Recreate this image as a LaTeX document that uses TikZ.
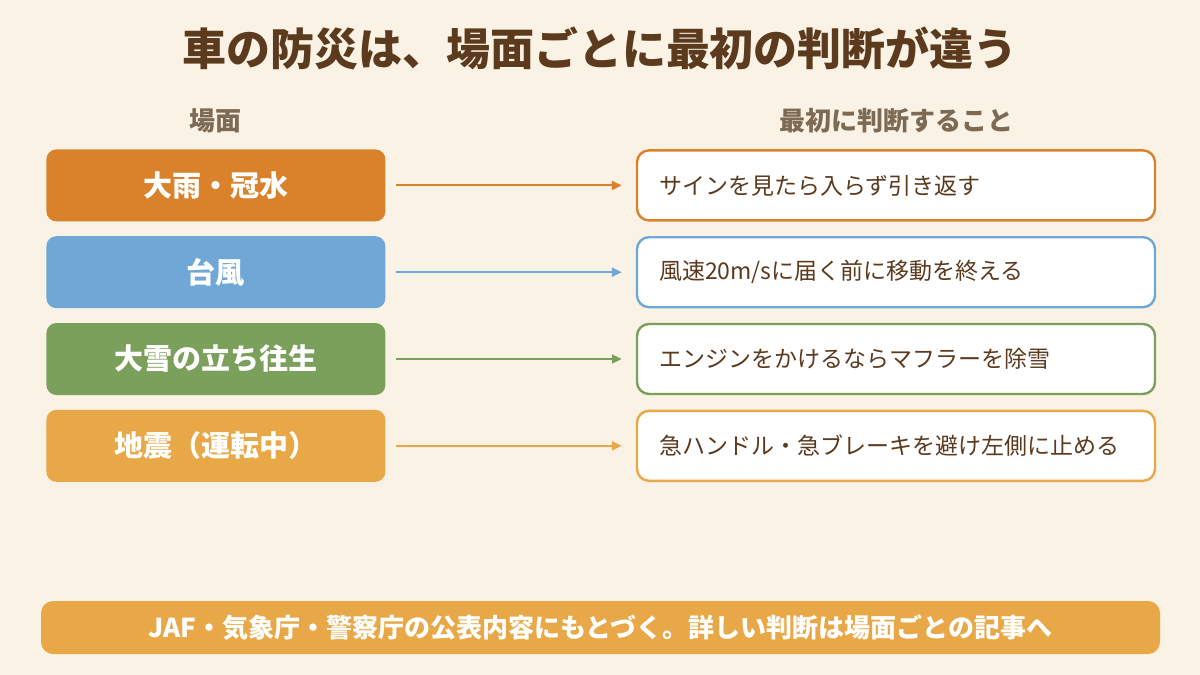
\documentclass[tikz,border=0pt]{standalone}
\usepackage{fontspec}
\setmainfont{Noto Sans CJK JP}
\usetikzlibrary{arrows.meta,positioning}
\definecolor{bg}{HTML}{FAF2E4}
\definecolor{titlebrown}{HTML}{5B3A1E}
\definecolor{headbrown}{HTML}{7D6A55}
\definecolor{rainc}{HTML}{D9822B}
\definecolor{typhc}{HTML}{6FA8D6}
\definecolor{snowc}{HTML}{7BA05B}
\definecolor{quakec}{HTML}{E9A847}

\begin{document}
\begin{tikzpicture}[
  x=0.5pt, y=-0.5pt,
  node distance=7pt and 125pt,
  scene/.style={fill=#1, rounded corners=5pt, minimum width=169.5pt, minimum height=36pt, inner sep=0pt, text=white, font=\bfseries\fontsize{14.5}{17}\selectfont},
  action/.style={draw=#1, line width=1.2pt, fill=white, rounded corners=6pt, text width=237pt, inner xsep=11pt, inner ysep=0pt, minimum height=35pt, align=left, text=titlebrown, font=\fontsize{11.5}{14}\selectfont},
  head/.style={text=headbrown, font=\bfseries\fontsize{13}{15}\selectfont, inner sep=0pt},
  arrow/.style={line width=1pt, draw=#1, -{Triangle[length=5pt,width=4.5pt]}, shorten <=5pt, shorten >=7pt}
]

\fill[bg] (0,0) rectangle (1200,675);

\node[font=\bfseries\fontsize{22}{26}\selectfont, text=titlebrown] (title) at (600,48) {車の防災は、場面ごとに最初の判断が違う};

\node[scene=rainc, anchor=north west] (rain) at (46,149) {大雨・冠水};
\node[scene=typhc, below=of rain] (typhoon) {台風};
\node[scene=snowc, below=of typhoon] (snow) {大雪の立ち往生};
\node[scene=quakec, below=of snow] (quake) {地震（運転中）};

\node[action=rainc, right=of rain] (rainact) {サインを見たら入らず引き返す};
\node[action=typhc, right=of typhoon] (typhoonact) {風速20m/sに届く前に移動を終える};
\node[action=snowc, right=of snow] (snowact) {エンジンをかけるならマフラーを除雪};
\node[action=quakec, right=of quake] (quakeact) {急ハンドル・急ブレーキを避け左側に止める};

\node[head, above=8pt of rain] (scenehead) {場面};
\node[head, above=8pt of rainact] (acthead) {最初に判断すること};

\draw[arrow=rainc] (rain) -- (rainact);
\draw[arrow=typhc] (typhoon) -- (typhoonact);
\draw[arrow=snowc] (snow) -- (snowact);
\draw[arrow=quakec] (quake) -- (quakeact);

\node[fill=quakec, rounded corners=6pt, minimum width=559.5pt, minimum height=26.5pt, inner sep=0pt, text=white, font=\bfseries\fontsize{13}{15}\selectfont] (note) at (600.5,627.5) {JAF・気象庁・警察庁の公表内容にもとづく。詳しい判断は場面ごとの記事へ};

\end{tikzpicture}
\end{document}
